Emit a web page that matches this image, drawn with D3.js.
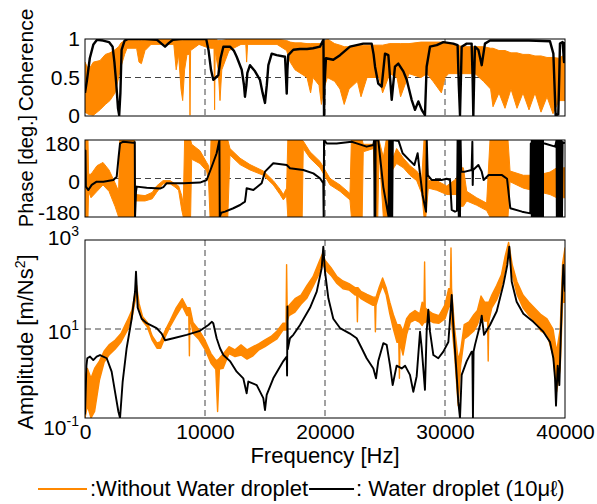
<!DOCTYPE html>
<html>
<head>
<meta charset="utf-8">
<script src="https://cdn.jsdelivr.net/npm/d3@7"></script>
<style>
  body { margin: 0; background: #fff; }
  svg text { font-family: "Liberation Sans", Arial, sans-serif; fill: #000; }
</style>
</head>
<body>
<div id="chart"></div>
<script>
// tick values
const xTicks = [0, 10000, 20000, 30000, 40000];
const gridX = [10000, 20000, 30000];
const cohTicks = [0, 0.5, 1];
const phaseTicks = [-180, 0, 180];
const ampTicks = [0.1, 10, 1000];
const ampExp = ["-1", "1", "3"];
const legendLabels = [":Without Water droplet", ": Water droplet (10\u03bc\u2113)"];

// coherence, water droplet: [Hz, coherence]
const cohBlack = [[0,0.3],[150,0.45],[400,0.75],[700,0.93],[1000,0.99],[1500,0.98],[2000,0.96],[2300,0.9],[2450,0.7],[2600,0.43],[2750,0.1],[2850,0.01],[2950,0.3],[3050,0.86],[3300,0.98],[3600,1],[5000,1],[6000,0.99],[6300,0.95],[6670,0.9],[7000,0.95],[7330,0.99],[8000,1],[10100,1],[10300,0.85],[10500,0.6],[10690,0.47],[10900,0.5],[11110,0.53],[11300,0.75],[11530,0.9],[12080,0.9],[12400,0.85],[12640,0.77],[13060,0.6],[13250,0.4],[13330,0.25],[13450,0.4],[13530,0.56],[13750,0.66],[14170,0.58],[14580,0.47],[14800,0.3],[15000,0.17],[15150,0.4],[15280,0.66],[15560,0.81],[15970,0.79],[16670,0.77],[16750,0.5],[16810,0.29],[16870,0.6],[16940,0.79],[17360,0.86],[17920,0.87],[18500,0.87],[19000,0.88],[19580,0.9],[19800,0.97],[19870,0.99],[19920,0],[19960,0.4],[20080,0.75],[20690,0.73],[21250,0.79],[22080,0.9],[23190,0.94],[23890,0.94],[24050,0.8],[24170,0.64],[24440,0.42],[24720,0.38],[25000,0.81],[25280,0.79],[25420,0.5],[25560,0.21],[25830,0.64],[26110,0.68],[26530,0.58],[26810,0.47],[27220,0.21],[27500,0.08],[27780,0.19],[28060,0.08],[28330,0.01],[28470,0.64],[28750,0.9],[29310,0.92],[29860,0.96],[30690,0.94],[31050,0.92],[31150,0.4],[31250,0.01],[31330,0.5],[31390,0.9],[31810,0.94],[32220,0.94],[32300,0.5],[32360,0],[32430,0.5],[32500,0.9],[32780,0.86],[33060,0.66],[33330,0.94],[33750,0.98],[35000,0.98],[37000,0.98],[38750,0.97],[39030,0.81],[39150,0.3],[39220,0.01],[39440,0.02],[39520,0.5],[39580,0.94],[39800,0.96],[39920,0.7],[40000,0.96]];

// coherence, without droplet (noisy band): [Hz, low, high]
const cohOrange = [[0,0.05,0.7],[300,0.02,0.6],[700,0.01,0.7],[1250,0.08,0.72],[1700,0.15,0.8],[2080,0.2,0.82],[2500,0.3,0.86],[2800,0.5,0.9],[3000,0.64,0.95],[3300,0.8,0.98],[3500,0.88,1],[4300,0.88,1],[4500,0.7,0.98],[4700,0.68,0.98],[5000,0.85,1],[5500,0.93,1],[7400,0.93,1],[7600,0.6,1],[7800,0.8,1],[8000,0.35,1],[8140,0.2,0.98],[8300,0.6,1],[8500,0.8,1],[8700,0.8,1],[8750,0.01,1],[8800,0.85,1],[9500,0.93,1],[10000,0.9,1],[10500,0.88,1],[10750,0.88,1],[10800,0.08,1],[10850,0.85,1],[11100,0.6,0.98],[11250,0.2,0.98],[11400,0.6,0.98],[12000,0.85,1],[13000,0.93,1],[13400,0.93,1],[13470,0.7,1],[13550,0.93,1],[16000,0.93,1],[16800,0.85,0.98],[17100,0.7,0.96],[17500,0.6,0.95],[18000,0.55,0.95],[18500,0.5,0.94],[18800,0.3,0.94],[19000,0.5,0.94],[19500,0.4,0.94],[19700,0.15,0.94],[19900,0.35,0.96],[20200,0.5,1],[20800,0.45,0.94],[21250,0.35,0.92],[21600,0.15,0.9],[22000,0.35,0.9],[22700,0.45,0.92],[23000,0.25,0.92],[23500,0.5,0.92],[24500,0.5,0.92],[24800,0.3,0.92],[25400,0.55,0.94],[26000,0.5,0.94],[26300,0.25,0.94],[27000,0.55,0.94],[28000,0.5,0.96],[28500,0.55,0.96],[29000,0.45,0.96],[29700,0.3,0.96],[30000,0.5,0.96],[30300,0.55,0.94],[31000,0.55,0.92],[31500,0.55,0.9],[32500,0.55,0.9],[33200,0.45,0.9],[33800,0.35,0.88],[34000,0.12,0.88],[34500,0.3,0.85],[35000,0.1,0.85],[35500,0.35,0.82],[36000,0.1,0.82],[36500,0.3,0.8],[37000,0.08,0.8],[37500,0.3,0.78],[38000,0.05,0.78],[38500,0.25,0.76],[39000,0.03,0.76],[39500,0.2,0.75],[40000,0.2,0.8]];

// phase, water droplet: [Hz, deg]
const phaseBlack = [[0,133],[40,130],[70,-38],[280,-54],[560,-30],[970,-15],[1530,-15],[2360,-7],[2640,8],[2800,100],[2920,164],[3190,172],[4030,167],[4150,170],[4170,-180],[4250,-60],[4310,-38],[5140,-43],[6250,-47],[6530,-40],[6810,-22],[8190,-22],[9580,-19],[10140,-7],[10560,55],[10970,118],[11200,180],[11230,-180],[11350,-160],[11670,-155],[12360,-139],[12920,-124],[13330,-108],[13400,-80],[13470,-46],[14030,-54],[14720,-22],[15000,32],[15690,71],[16810,63],[17080,48],[18190,40],[19030,24],[19580,1],[19860,-22],[19890,-180],[19920,180],[20140,164],[20970,164],[22220,172],[22640,164],[23470,149],[24030,157],[24100,180],[24130,-180],[24160,180],[24190,-180],[24220,180],[24440,178],[24860,-40],[25300,-180],[25350,180],[25450,-180],[25500,180],[25600,-180],[25650,180],[26140,175],[26470,118],[27030,86],[27450,63],[27720,118],[27860,48],[28130,-77],[28420,-155],[28480,180],[28560,16],[28890,-7],[29720,-7],[30140,-1],[30420,-7],[30560,-147],[30830,-155],[31000,-150],[31050,180],[31150,-180],[31200,180],[31250,-180],[31300,180],[31350,32],[31670,32],[32220,40],[32280,172],[32310,-30],[32340,40],[32780,63],[33060,32],[33220,-7],[33640,16],[34750,16],[35170,-1],[35440,-139],[36420,-155],[37110,-163],[37150,164],[38300,164],[39180,149],[39300,180],[39320,-180],[39400,180],[39450,-180],[39550,180],[39600,-180],[39700,180],[39750,-180],[39800,170],[40000,165]];
// phase wrapping so dense it prints as a solid block: [from Hz, to Hz]
const phaseBlackBands = [[37150, 38250]];

// phase, without droplet (noisy band): [Hz, low, high]
const phaseOrange = [[0,-180,180],[250,-180,180],[300,-60,20],[500,-90,20],[1000,-60,60],[1500,-30,75],[2000,-60,40],[2500,-130,-20],[2800,-180,-60],[2900,-180,180],[4100,-180,180],[4200,-105,-75],[5000,-105,-80],[5600,-95,-65],[5970,-65,-35],[6500,-25,-10],[7100,-25,-10],[7500,-40,-25],[7800,-55,-35],[8060,-147,-80],[8190,-180,-120],[8300,-180,180],[8800,-180,180],[8890,90,160],[9580,70,130],[10140,35,75],[10300,-20,60],[10420,-180,-7],[10500,-180,180],[11900,-180,180],[12080,110,140],[12920,65,95],[13750,40,65],[14860,15,35],[15690,-30,-10],[16250,-75,-50],[16530,-100,-75],[16800,-80,-45],[16900,-180,180],[18100,-180,180],[18190,140,175],[18750,95,125],[19580,50,80],[20420,-30,0],[21250,-60,-30],[22080,-100,-70],[22200,-180,180],[23100,-180,180],[23190,125,160],[23750,135,160],[24030,140,160],[24250,-180,180],[24400,-180,180],[24500,133,180],[24860,-180,100],[25100,-180,180],[25500,-180,180],[25560,35,80],[25970,70,140],[26530,50,95],[27080,15,60],[27640,-10,35],[28060,-70,0],[28250,-180,180],[28400,-180,180],[28610,-45,-10],[29310,-55,-10],[30140,-75,-35],[30970,-75,0],[31250,-130,50],[31530,-130,50],[31810,-105,-60],[32640,-125,-90],[33470,-150,-115],[33750,-180,180],[35250,-180,180],[35420,-15,35],[36530,-45,15],[37640,-60,15],[38750,-75,30],[39310,-90,50],[39860,-90,50],[40000,-90,50]];

// amplitude, water droplet: [Hz, m/Ns^2]
const ampBlack = [[0,0.12],[120,1.5],[190,2.2],[420,2.4],[690,2.0],[970,2.4],[1250,2.6],[1810,2.2],[2220,1.1],[2500,0.39],[2780,0.14],[2920,0.1],[3140,0.66],[3470,3.7],[3890,17],[4170,69],[4250,195],[4390,30],[4720,17],[5140,13.5],[5970,10.5],[6390,7.9],[6670,5.6],[7360,6.2],[8470,7.4],[9580,9.1],[10280,12.3],[10560,14.5],[10690,13.5],[10970,6.2],[11250,3.7],[11530,2.6],[12080,1.9],[12640,1.1],[13190,0.78],[13470,0.36],[13610,0.66],[14310,0.55],[14860,0.28],[15000,0.15],[15140,0.33],[15690,0.78],[16530,1.9],[16810,2.4],[16840,0.9],[16870,32],[16900,3.5],[17080,6.2],[17360,7.4],[17920,12.3],[18750,30],[19310,69],[19720,230],[19860,710],[20000,195],[20280,49],[20690,17],[21250,10.5],[22080,7.9],[22640,6.2],[23060,3.7],[23470,2.2],[24030,1.3],[24250,0.78],[24440,1.9],[24860,4.8],[25140,4.4],[25420,1.5],[25640,0.55],[25970,1.5],[26390,1.3],[26670,1.5],[27080,0.93],[27360,0.39],[27640,0.87],[27920,8.7],[28060,3.7],[28330,0.43],[28470,8.7],[28610,27],[28750,8.7],[29030,2.6],[29440,2.2],[29860,3.1],[30280,5.1],[30560,58],[30690,12.3],[30970,0.93],[31110,0.23],[31250,0.1],[31390,0.93],[31810,1.9],[32220,3.1],[32280,3.1],[32330,0.1],[32380,3.1],[32500,4.4],[32920,12.3],[33060,20],[33250,7.4],[33750,12.3],[34310,25],[34860,98],[35190,275],[35360,710],[35560,115],[35970,41],[36530,22],[37360,14.5],[38190,8.7],[38750,5.1],[39030,2.2],[39170,0.78],[39250,0.19],[39390,1.5],[39530,0.55],[39720,30],[39860,275],[40000,69]];

// amplitude, without droplet (noisy band): [Hz, low, high]
const ampOrange = [[0,0.1,0.8],[200,0.19,1.3],[500,0.1,0.78],[800,0.14,1.3],[1200,0.7,1.9],[1600,1.8,3.2],[2000,2.6,4.4],[2500,3.5,5.6],[3000,5.1,7.9],[3500,9,15],[3900,17,26],[4200,45,70],[4300,75,95],[4500,28,38],[4800,15,19],[5200,11,14],[5600,5.6,7],[6000,3.7,4.8],[6300,3.7,5.2],[6700,6.8,9.5],[7100,11.5,15.5],[7600,20,30],[8100,33,48],[8500,20,30],[8650,20,30],[8700,2.5,30],[8750,20,30],[9000,8,14],[9500,5.8,9.5],[10000,3.5,5.6],[10500,1.7,2.8],[10900,1.25,2],[11050,0.14,2],[11200,1.25,2.2],[11500,1.3,2.7],[12000,2.8,4],[12500,2.4,3.4],[13000,2.6,4.4],[13500,2.1,3.4],[14000,2.5,4],[14500,3.4,4.7],[15000,4,5.7],[15500,4.9,6.8],[16000,6,9],[16500,9.5,13.5],[16750,9.5,13.5],[16800,9.5,280],[16850,15,28],[17000,20,34],[17500,24,48],[18000,36,58],[18500,50,95],[19000,90,150],[19500,170,320],[19800,300,500],[20000,220,350],[20500,160,240],[21000,105,150],[21500,80,120],[22000,75,105],[22500,58,85],[22650,58,85],[22700,14.5,85],[22750,58,85],[23000,48,70],[23500,40,60],[24000,34,52],[24150,34,52],[24200,8.7,52],[24250,34,52],[24500,58,85],[24800,95,140],[25100,58,85],[25400,22,40],[25700,10,21],[26000,5,12.5],[26150,5,12.5],[26200,0.78,12.5],[26250,5,12.5],[26500,2.6,9],[26800,7.5,17],[27100,14,22],[27500,16,26],[27900,14,22],[28100,12,40],[28250,14,35],[28300,14,320],[28350,14,30],[28600,16,26],[29000,14,22],[29500,13.5,20],[30000,17,35],[30300,30,80],[30450,35,80],[30500,35,660],[30550,14,80],[30800,2.6,10.5],[31100,0.19,2],[31300,1.5,3.2],[31600,6,12.5],[32000,7.2,14.5],[32400,9,21],[32700,12.5,26],[33000,22,55],[33300,15,40],[33550,15,40],[33600,1.9,40],[33650,15,40],[33900,30,58],[34300,45,95],[34700,85,165],[35000,220,420],[35300,520,880],[35600,165,280],[36000,60,115],[36500,30,58],[37000,20,40],[37500,14.5,29],[38000,9,21],[38500,7.5,17],[39000,2.6,10],[39300,0.39,3.1],[39600,1.3,10],[39800,40,300],[40000,40,660]];

const ORANGE = "#ff8800";
const W = 597, H = 504;

const svg = d3.select("#chart").append("svg")
  .attr("width", W)
  .attr("height", H);

const x = d3.scaleLinear().domain([0, 40000]).range([85, 565]);
const yCoh = d3.scaleLinear().domain([0, 1]).range([116, 39]);
const yPh = d3.scaleLinear().domain([-180, 180]).range([217, 140]);
const yAmp = d3.scaleLog().domain([0.1, 1000]).range([418, 240]);

function panel(id, y, hLine) {
  const [y1, y0] = y.range();
  svg.append("clipPath").attr("id", "clip-" + id)
    .append("rect")
    .attr("x", x(0)).attr("y", y0)
    .attr("width", x(40000) - x(0)).attr("height", y1 - y0);

  const g = svg.append("g");
  const grid = g.append("g")
    .attr("stroke", "#444")
    .attr("stroke-width", 1)
    .attr("stroke-dasharray", "6,4");
  grid.selectAll("line.v")
    .data(gridX)
    .enter().append("line")
    .attr("x1", d => x(d)).attr("x2", d => x(d))
    .attr("y1", y0).attr("y2", y1);
  grid.append("line")
    .attr("x1", x(0)).attr("x2", x(40000))
    .attr("y1", y(hLine)).attr("y2", y(hLine));

  const plot = g.append("g").attr("clip-path", `url(#clip-${id})`);
  return { g, plot, y0, y1 };
}

function drawBand(p, y, data, width) {
  p.plot.append("path")
    .datum(data)
    .attr("fill", ORANGE)
    .attr("stroke", ORANGE)
    .attr("stroke-width", width)
    .attr("stroke-linejoin", "round")
    .attr("d", d3.area()
      .x(d => x(d[0]))
      .y0(d => y(d[1]))
      .y1(d => y(d[2])));
}

function drawLine(p, y, data, width) {
  p.plot.append("path")
    .datum(data)
    .attr("fill", "none")
    .attr("stroke", "#000")
    .attr("stroke-width", width)
    .attr("stroke-linejoin", "round")
    .attr("d", d3.line()
      .x(d => x(d[0]))
      .y(d => y(d[1])));
}

function drawFrame(p) {
  p.g.append("rect")
    .attr("x", x(0)).attr("y", p.y0)
    .attr("width", x(40000) - x(0)).attr("height", p.y1 - p.y0)
    .attr("fill", "none")
    .attr("stroke", "#000")
    .attr("stroke-width", 1);
}

// Coherence
const pc = panel("coh", yCoh, 0.5);
drawBand(pc, yCoh, cohOrange, 1);
drawLine(pc, yCoh, cohBlack, 2.4);
drawFrame(pc);

// Phase
const pp = panel("ph", yPh, 0);
drawBand(pp, yPh, phaseOrange, 1);
pp.plot.selectAll("rect.band")
  .data(phaseBlackBands)
  .enter().append("rect")
  .attr("x", d => x(d[0]))
  .attr("width", d => x(d[1]) - x(d[0]))
  .attr("y", yPh(180))
  .attr("height", yPh(-180) - yPh(180))
  .attr("fill", "#000");
drawLine(pp, yPh, phaseBlack, 2);
drawFrame(pp);

// Amplitude
const pa = panel("amp", yAmp, 10);
drawBand(pa, yAmp, ampOrange, 1.4);
drawLine(pa, yAmp, ampBlack, 1.9);
drawFrame(pa);

// tick labels
const FS = 21;
svg.append("g").selectAll("text")
  .data(cohTicks)
  .enter().append("text")
  .attr("x", 80)
  .attr("y", d => yCoh(d))
  .attr("dy", "0.35em")
  .attr("text-anchor", "end")
  .attr("font-size", FS)
  .text(d => String(d));

const phNudge = { "180": 3.5, "0": 3.5, "-180": -4 };
svg.append("g").selectAll("text")
  .data(phaseTicks)
  .enter().append("text")
  .attr("x", 80)
  .attr("y", d => yPh(d) + phNudge[d])
  .attr("dy", "0.35em")
  .attr("text-anchor", "end")
  .attr("font-size", FS)
  .text(d => String(d));

const ampNudge = { "0.1": 10, "10": 2.5, "1000": -2 };
const ampLab = svg.append("g").selectAll("text")
  .data(ampTicks)
  .enter().append("text")
  .attr("x", 79)
  .attr("y", d => yAmp(d) + ampNudge[d])
  .attr("dy", "0.35em")
  .attr("text-anchor", "end")
  .attr("font-size", FS);
ampLab.append("tspan").text("10");
ampLab.append("tspan")
  .attr("dy", -9)
  .attr("font-size", 14)
  .text((d, i) => ampExp[i]);

svg.append("g")
  .attr("transform", `translate(0,${yAmp.range()[0]})`)
  .call(d3.axisBottom(x).tickValues(xTicks).tickFormat(d3.format("d")).tickSize(0).tickPadding(6))
  .call(g => g.select(".domain").remove())
  .selectAll("text")
  .attr("font-size", FS)
  .attr("fill", "#000");

// axis titles
svg.append("text")
  .attr("transform", "translate(33,60) rotate(-90)")
  .attr("text-anchor", "middle")
  .attr("font-size", FS)
  .text("Coherence");
svg.append("text")
  .attr("transform", "translate(33,171) rotate(-90)")
  .attr("text-anchor", "middle")
  .attr("font-size", 20)
  .text("Phase [deg.]");
const ampTitle = svg.append("text")
  .attr("transform", "translate(33,342) rotate(-90)")
  .attr("text-anchor", "middle")
  .attr("font-size", 22);
ampTitle.append("tspan").text("Amplitude [m/Ns");
ampTitle.append("tspan").attr("dy", -8).attr("font-size", 14).text("2");
ampTitle.append("tspan").attr("dy", 8).text("]");

svg.append("text")
  .attr("x", 325)
  .attr("y", 463)
  .attr("text-anchor", "middle")
  .attr("font-size", 22)
  .text("Frequency [Hz]");

// legend
const leg = svg.append("g").attr("font-size", 22);
leg.append("line")
  .attr("x1", 38).attr("x2", 87).attr("y1", 489).attr("y2", 489)
  .attr("stroke", ORANGE).attr("stroke-width", 2);
const t1 = leg.append("text").attr("x", 90).attr("y", 496).text(legendLabels[0]);
const e1 = 90 + t1.node().getComputedTextLength() + 1;
leg.append("line")
  .attr("x1", e1).attr("x2", e1 + 45).attr("y1", 489).attr("y2", 489)
  .attr("stroke", "#000").attr("stroke-width", 2);
leg.append("text").attr("x", e1 + 47).attr("y", 496).text(legendLabels[1]);
</script>
</body>
</html>
